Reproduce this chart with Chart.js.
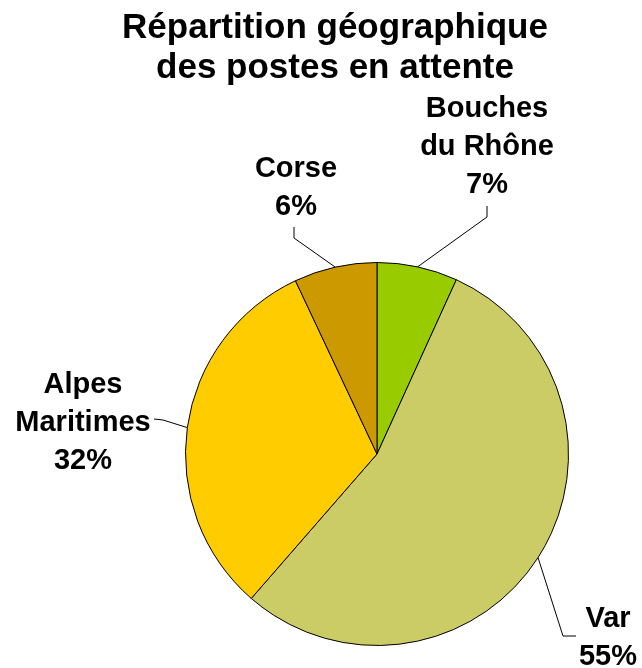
<!DOCTYPE html>
<html>
<head>
<meta charset="utf-8">
<script src="https://cdn.jsdelivr.net/npm/chart.js@4/dist/chart.umd.min.js"></script>
<style>
  html, body { margin: 0; padding: 0; background: #fff; }
  #wrap { width: 642px; height: 668px; }
</style>
</head>
<body>
<div id="wrap"><canvas id="pie" width="642" height="668"></canvas></div>
<script>
// data, clockwise from 12 o'clock
var regions = [['Bouches', 'du Rhône'], ['Var'], ['Alpes', 'Maritimes'], ['Corse']];
var shares = [6.8, 54.6, 31.6, 7.0];           // slice sizes as drawn
var shareLabels = ['7%', '55%', '32%', '6%'];   // percentages as printed
var colours = ['#99CC00', '#CCCC66', '#FFCC00', '#CC9900'];
var titleLines = ['Répartition géographique', 'des postes en attente'];

// where each label sits: text centre x, first baseline, and the leader line bends
var labelSpots = [
    { x: 487, y: 117, elbow: [487, 217], end: [487, 206] },
    { x: 608, y: 627, elbow: [563, 636], end: [576, 636] },
    { x: 83, y: 393, elbow: [163, 420], end: [154, 419] },
    { x: 296, y: 177, elbow: [294, 238], end: [294, 227] }
];

var labelPlugin = {
    id: 'pieLabels',
    afterDraw: function (chart) {
        var ctx = chart.ctx;
        var meta = chart.getDatasetMeta(0);
        ctx.save();
        ctx.fillStyle = '#000';
        ctx.textAlign = 'center';
        ctx.textBaseline = 'alphabetic';

        ctx.font = 'bold 35px "Liberation Sans", Arial, sans-serif';
        ctx.fillText(titleLines[0], 335, 38);
        ctx.fillText(titleLines[1], 335, 78);

        ctx.font = 'bold 29px "Liberation Sans", Arial, sans-serif';
        ctx.strokeStyle = '#000';
        ctx.lineWidth = 1;
        meta.data.forEach(function (arc, i) {
            var mid = (arc.startAngle + arc.endAngle) / 2;
            var ex = arc.x + Math.cos(mid) * arc.outerRadius;
            var ey = arc.y + Math.sin(mid) * arc.outerRadius;
            var spot = labelSpots[i];
            ctx.beginPath();
            ctx.moveTo(ex, ey);
            ctx.lineTo(spot.elbow[0], spot.elbow[1]);
            ctx.lineTo(spot.end[0], spot.end[1]);
            ctx.stroke();

            var lines = regions[i].concat([shareLabels[i]]);
            lines.forEach(function (txt, k) {
                ctx.fillText(txt, spot.x, spot.y + k * 38);
            });
        });
        ctx.restore();
    }
};

new Chart(document.getElementById('pie'), {
    type: 'pie',
    data: {
        labels: regions.map(function (r) { return r.join(' '); }),
        datasets: [{
            data: shares,
            backgroundColor: colours,
            borderColor: '#000',
            borderWidth: 1
        }]
    },
    options: {
        responsive: false,
        animation: false,
        layout: { padding: { top: 262, bottom: 22, left: 185, right: 73 } },
        plugins: {
            legend: { display: false },
            title: { display: false },
            tooltip: { enabled: false }
        }
    },
    plugins: [labelPlugin]
});
</script>
</body>
</html>
